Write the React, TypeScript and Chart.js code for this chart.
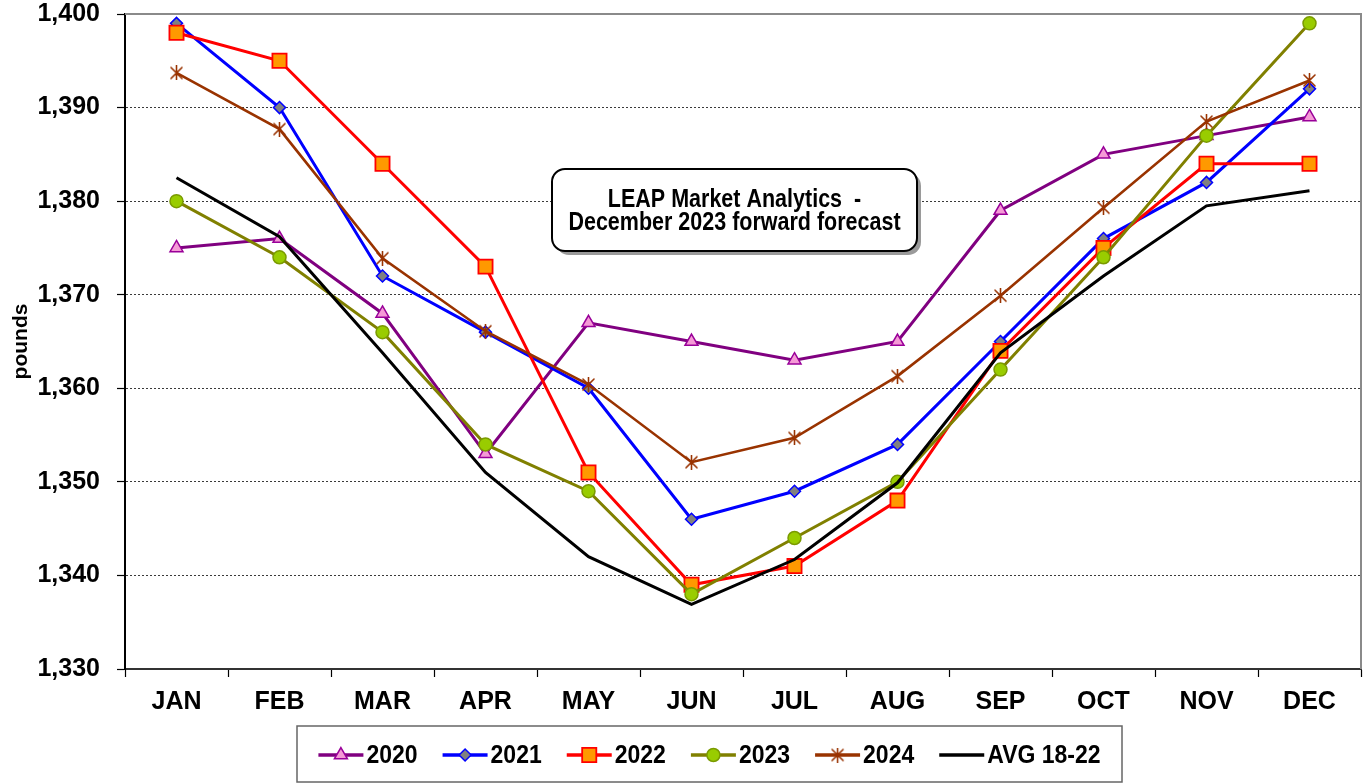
import React, { useEffect, useRef } from 'react';
import { Chart, registerables } from 'chart.js';
import { drawPoint } from 'chart.js/helpers';

Chart.register(...registerables);

// ---- data ----
const months = ['JAN', 'FEB', 'MAR', 'APR', 'MAY', 'JUN', 'JUL', 'AUG', 'SEP', 'OCT', 'NOV', 'DEC'];
const s2020 = [1375, 1376, 1368, 1353, 1367, 1365, 1363, 1365, 1379, 1385, 1387, 1389];
const s2021 = [1399, 1390, 1372, 1366, 1360, 1346, 1349, 1354, 1365, 1376, 1382, 1392];
const s2022 = [1398, 1395, 1384, 1373, 1351, 1339, 1341, 1348, 1364, 1375, 1384, 1384];
const s2023 = [1380, 1374, 1366, 1354, 1349, 1338, 1344, 1350, 1362, 1374, 1387, 1399];
const s2024 = [1393.7, 1387.7, 1373.9, 1366.1, 1360.4, 1352.1, 1354.7, 1361.3, 1369.9, 1379.3, 1388.5, 1392.9];
const sAvg = [1382.5, 1376.2, 1363.8, 1351.0, 1342.0, 1336.9, 1341.7, 1349.9, 1363.8, 1372.0, 1379.5, 1381.1];
const seriesNames = ['2020', '2021', '2022', '2023', '2024', 'AVG 18-22'];
const yMin = 1330;
const yMax = 1400;
const yStep = 10;
const yAxisTitle = 'pounds';
const annotationLines = ['LEAP Market Analytics  -', 'December 2023 forward forecast'];

const FONT = "'Liberation Sans', Arial, Helvetica, sans-serif";
const PLOT_RIGHT_MARGIN = 5;

function makeStar(color: string) {
  const c = document.createElement('canvas');
  c.width = 15;
  c.height = 15;
  const g = c.getContext('2d')!;
  g.strokeStyle = color;
  g.lineWidth = 1.6;
  g.lineCap = 'round';
  g.beginPath();
  g.moveTo(2, 2); g.lineTo(13, 13);
  g.moveTo(13, 2); g.lineTo(2, 13);
  g.moveTo(7.5, 0.5); g.lineTo(7.5, 14.5);
  g.stroke();
  return c;
}

const fixAreaPlugin = {
  id: 'fixArea',
  afterLayout(chart: any) {
    const ca = chart.chartArea;
    const target = chart.width - PLOT_RIGHT_MARGIN;
    if (Math.abs(ca.right - target) > 0.5) {
      ca.right = target;
      ca.width = ca.right - ca.left;
      const xs = chart.scales.x;
      xs.right = target;
      xs.width = xs.right - xs.left;
      xs.configure();
    }
  },
};

const plotBorderPlugin = {
  id: 'plotBorder',
  beforeDatasetsDraw(chart: any) {
    const { ctx, chartArea } = chart;
    ctx.save();
    ctx.strokeStyle = '#8a8a8a';
    ctx.lineWidth = 2;
    ctx.beginPath();
    ctx.moveTo(chartArea.left, chartArea.top);
    ctx.lineTo(chartArea.right, chartArea.top);
    ctx.lineTo(chartArea.right, chartArea.bottom);
    ctx.stroke();
    ctx.restore();
  },
};

function roundRectPath(ctx: CanvasRenderingContext2D, x: number, y: number, w: number, h: number, r: number) {
  ctx.beginPath();
  ctx.moveTo(x + r, y);
  ctx.lineTo(x + w - r, y);
  ctx.arcTo(x + w, y, x + w, y + r, r);
  ctx.lineTo(x + w, y + h - r);
  ctx.arcTo(x + w, y + h, x + w - r, y + h, r);
  ctx.lineTo(x + r, y + h);
  ctx.arcTo(x, y + h, x, y + h - r, r);
  ctx.lineTo(x, y + r);
  ctx.arcTo(x, y, x + r, y, r);
  ctx.closePath();
}

function tallText(ctx: CanvasRenderingContext2D, text: string, x: number, y: number, sy: number) {
  ctx.save();
  ctx.translate(x, y);
  ctx.scale(1, sy);
  ctx.fillText(text, 0, 0);
  ctx.restore();
}

const annotationPlugin = {
  id: 'annotationBox',
  afterDraw(chart: any) {
    const ctx: CanvasRenderingContext2D = chart.ctx;
    const x = 552, y = 169, w = 365, h = 82, r = 13;
    ctx.save();
    roundRectPath(ctx, x + 4, y + 4, w, h, r);
    ctx.fillStyle = '#9a9a9a';
    ctx.fill();
    roundRectPath(ctx, x, y, w, h, r);
    ctx.fillStyle = '#ffffff';
    ctx.fill();
    ctx.strokeStyle = '#000';
    ctx.lineWidth = 2;
    ctx.stroke();
    ctx.fillStyle = '#000';
    ctx.font = `bold 21.5px ${FONT}`;
    ctx.textAlign = 'center';
    ctx.textBaseline = 'middle';
    tallText(ctx, annotationLines[0], x + w / 2, 200, 1.18);
    tallText(ctx, annotationLines[1], x + w / 2, 223, 1.18);
    ctx.restore();
  },
};

const legendPlugin = {
  id: 'boxLegend',
  afterDraw(chart: any) {
    const ctx: CanvasRenderingContext2D = chart.ctx;
    const bx = 297, by = 726, bw = 825, bh = 56;
    const lineLen = 45, gapText = 3, gapItem = 25;
    ctx.save();
    ctx.fillStyle = '#fff';
    ctx.fillRect(bx, by, bw, bh);
    ctx.strokeStyle = '#666';
    ctx.lineWidth = 1.5;
    ctx.strokeRect(bx, by, bw, bh);
    ctx.font = `bold 23px ${FONT}`;
    ctx.textBaseline = 'middle';
    ctx.textAlign = 'left';
    const ds = chart.data.datasets;
    const widths = ds.map((d: any) => ctx.measureText(d.label).width);
    let total = 0;
    ds.forEach((d: any, i: number) => {
      total += lineLen + gapText + widths[i] + (i < ds.length - 1 ? gapItem : 0);
    });
    let cx = bx + (bw - total) / 2;
    const cy = by + bh / 2 + 1;
    ds.forEach((d: any, i: number) => {
      ctx.strokeStyle = d.borderColor;
      ctx.lineWidth = 3.5;
      ctx.beginPath();
      ctx.moveTo(cx, cy);
      ctx.lineTo(cx + lineLen, cy);
      ctx.stroke();
      if (d.pointRadius > 0) {
        ctx.fillStyle = d.pointBackgroundColor;
        ctx.strokeStyle = d.pointBorderColor;
        ctx.lineWidth = d.pointBorderWidth;
        drawPoint(ctx, { pointStyle: d.pointStyle, rotation: 0, radius: d.pointRadius, borderWidth: d.pointBorderWidth }, cx + lineLen / 2, cy);
      }
      ctx.fillStyle = '#000';
      tallText(ctx, d.label, cx + lineLen + gapText, cy + 1, 1.15);
      cx += lineLen + gapText + widths[i] + gapItem;
    });
    ctx.restore();
  },
};

export default function App() {
  const ref = useRef<HTMLCanvasElement | null>(null);

  useEffect(() => {
    document.body.style.margin = '0';
    if (!ref.current) return;
    Chart.defaults.font.family = FONT;
    Chart.defaults.color = '#000';
    const star = makeStar('#993300');

    const mk = (label: string, data: number[], color: string, extra: any, order: number) => ({
      label,
      data,
      borderColor: color,
      backgroundColor: color,
      borderWidth: 3,
      tension: 0,
      fill: false,
      order,
      ...extra,
    });

    const datasets = [
      mk(seriesNames[0], s2020, '#800080', { pointStyle: 'triangle', pointRadius: 7.5, pointBackgroundColor: '#F59AD6', pointBorderColor: '#990099', pointBorderWidth: 1.5 }, 5),
      mk(seriesNames[1], s2021, '#0000FF', { pointStyle: 'rectRot', pointRadius: 6, pointBackgroundColor: '#808080', pointBorderColor: '#0000FF', pointBorderWidth: 1.5 }, 4),
      mk(seriesNames[2], s2022, '#FF0000', { pointStyle: 'rect', pointRadius: 10, pointBackgroundColor: '#FF9900', pointBorderColor: '#FF0000', pointBorderWidth: 1.8 }, 3),
      mk(seriesNames[3], s2023, '#808000', { pointStyle: 'circle', pointRadius: 6.5, pointBackgroundColor: '#99CC00', pointBorderColor: '#7A9A00', pointBorderWidth: 1.5 }, 2),
      mk(seriesNames[4], s2024, '#993300', { pointStyle: star, pointRadius: 7, pointBackgroundColor: '#993300', pointBorderColor: '#993300', pointBorderWidth: 1.5, borderWidth: 2.6 }, 1),
      mk(seriesNames[5], sAvg, '#000000', { pointRadius: 0, pointBorderWidth: 0 }, 0),
    ];

    const chart = new Chart(ref.current, {
      type: 'line',
      data: { labels: months, datasets },
      plugins: [fixAreaPlugin, plotBorderPlugin, annotationPlugin, legendPlugin],
      options: {
        animation: false,
        responsive: false,
        devicePixelRatio: 1,
        events: [],
        layout: { padding: { top: 14, right: PLOT_RIGHT_MARGIN, left: 0, bottom: 0 } },
        plugins: {
          legend: { display: false },
          tooltip: { enabled: false },
          title: { display: false },
        },
        elements: { point: { hoverRadius: 0 } },
        scales: {
          x: {
            type: 'category',
            offset: true,
            grid: {
              display: true,
              drawOnChartArea: false,
              drawTicks: true,
              tickLength: 8,
              tickColor: '#000',
              tickWidth: 1.2,
              offset: true,
            },
            border: { display: true, color: '#333', width: 2 },
            ticks: {
              color: '#000',
              font: { size: 25, weight: 'bold' },
              padding: 10,
              maxRotation: 0,
              autoSkip: false,
            },
            afterFit(scale: any) {
              scale.height = 115;
              scale.paddingLeft = 0;
              scale.paddingRight = 0;
            },
          },
          y: {
            min: yMin,
            max: yMax,
            grid: {
              color: '#3a3a3a',
              lineWidth: 1,
              drawTicks: true,
              tickLength: 8,
              tickColor: '#000',
              tickWidth: 1.2,
            },
            border: { display: true, color: '#000', width: 2, dash: [2, 2] },
            ticks: {
              stepSize: yStep,
              color: '#000',
              font: { size: 25, weight: 'bold' },
              padding: 17,
              callback: (v: any) => Number(v).toLocaleString('en-US'),
            },
            title: {
              display: true,
              text: yAxisTitle,
              color: '#000',
              font: { size: 21, weight: 'bold' },
              padding: { top: 9, bottom: 0 },
            },
            afterFit(scale: any) {
              scale.width = 125;
              scale.paddingTop = 0;
              scale.paddingBottom = 0;
            },
          },
        },
      } as any,
    });
    return () => chart.destroy();
  }, []);

  return (
    <div style={{ position: 'absolute', left: 0, top: 0, width: 1366, height: 784, background: '#fff' }}>
      <canvas ref={ref} width={1366} height={784} style={{ display: 'block', width: 1366, height: 784 }} />
    </div>
  );
}
